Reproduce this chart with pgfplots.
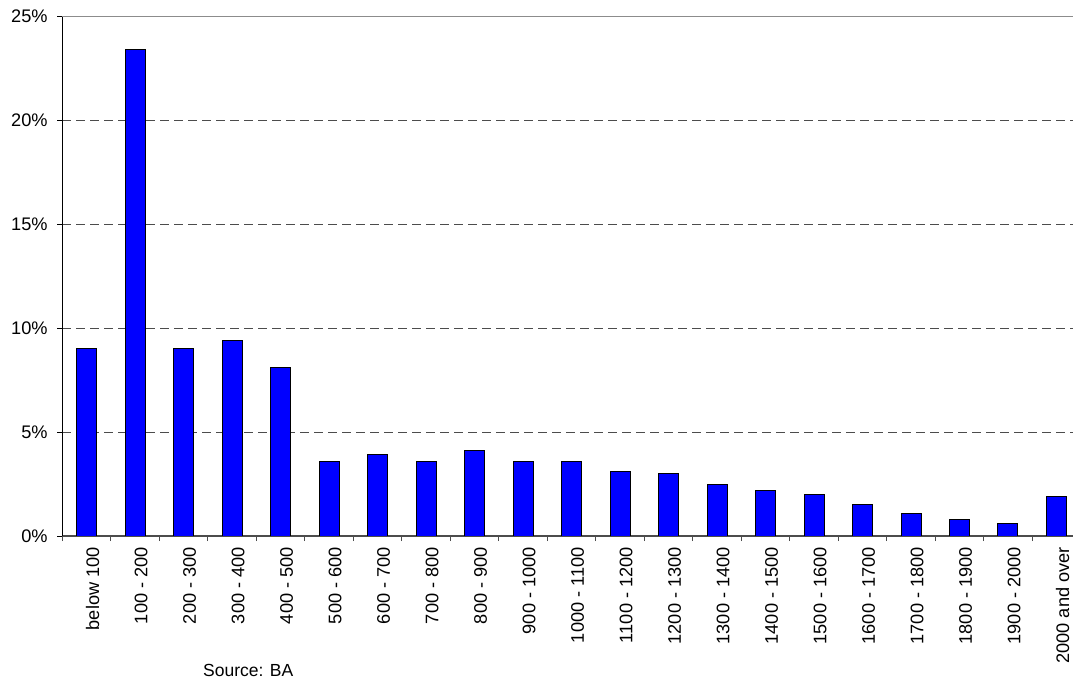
\documentclass[border=0pt]{standalone}
\usepackage{fontspec}
\setmainfont{Liberation Sans}
\usepackage{pgfplots}
\pgfplotsset{compat=1.18}
\definecolor{barblue}{RGB}{0,0,255}
\begin{document}
\fontsize{18bp}{22bp}\selectfont
\begin{tikzpicture}
\begin{axis}[
  at={(62.3bp,143bp)}, anchor=south west,
  scale only axis, width=1010.7bp, height=519.5bp,
  xmin=-0.5, xmax=20.34, ymin=0, ymax=25,
  axis x line*=bottom, axis y line*=left,
  x axis line style={-, draw=black!70, line width=1.2bp},
  y axis line style={-, draw=black, line width=1bp},
  ytick={0,5,10,15,20}, yticklabels={0\%,5\%,10\%,15\%,20\%},
  extra y ticks={25}, extra y tick labels={25\%},
  extra y tick style={ymajorgrids=true, major grid style={solid, draw=black!45, line width=1.2bp}},
  ymajorgrids,
  major grid style={draw=black!70, dash pattern=on 9bp off 5bp, line width=0.8bp},
  xtick={0,...,20},
  xticklabels={below 100,100 - 200,200 - 300,300 - 400,400 - 500,500 - 600,600 - 700,700 - 800,800 - 900,900 - 1000,1000 - 1100,1100 - 1200,1200 - 1300,1300 - 1400,1400 - 1500,1500 - 1600,1600 - 1700,1700 - 1800,1800 - 1900,1900 - 2000,2000 and over},
  minor xtick={-0.5,0.5,...,20.5},
  tick align=outside, major tick length=5bp, minor tick length=5bp,
  major x tick style={draw=none},
  minor x tick style={draw=black!70, line width=1bp},
  major y tick style={draw=black, line width=1bp},
  xticklabel style={rotate=90, anchor=east, yshift=-6bp, font=\fontsize{18.2bp}{22bp}\selectfont},
  yticklabel style={xshift=-3.5bp, font=\fontsize{18.2bp}{22bp}\selectfont},
  ybar, bar width=20bp,
]
\addplot[fill=barblue, draw=black, line width=1bp] coordinates {
 (0,9.0) (1,23.4) (2,9.0) (3,9.4) (4,8.1) (5,3.6) (6,3.9) (7,3.6) (8,4.1) (9,3.6)
 (10,3.6) (11,3.1) (12,3.0) (13,2.5) (14,2.2) (15,2.0) (16,1.5) (17,1.1) (18,0.8) (19,0.6) (20,1.9)
};
\end{axis}
\node[font=\fontsize{17.5bp}{21bp}\selectfont, anchor=base west, inner sep=0pt] at (203bp,2.5bp) {Source: BA};
\pgfresetboundingbox
\useasboundingbox (0,0) rectangle (1073bp,679bp);
\end{tikzpicture}
\end{document}
